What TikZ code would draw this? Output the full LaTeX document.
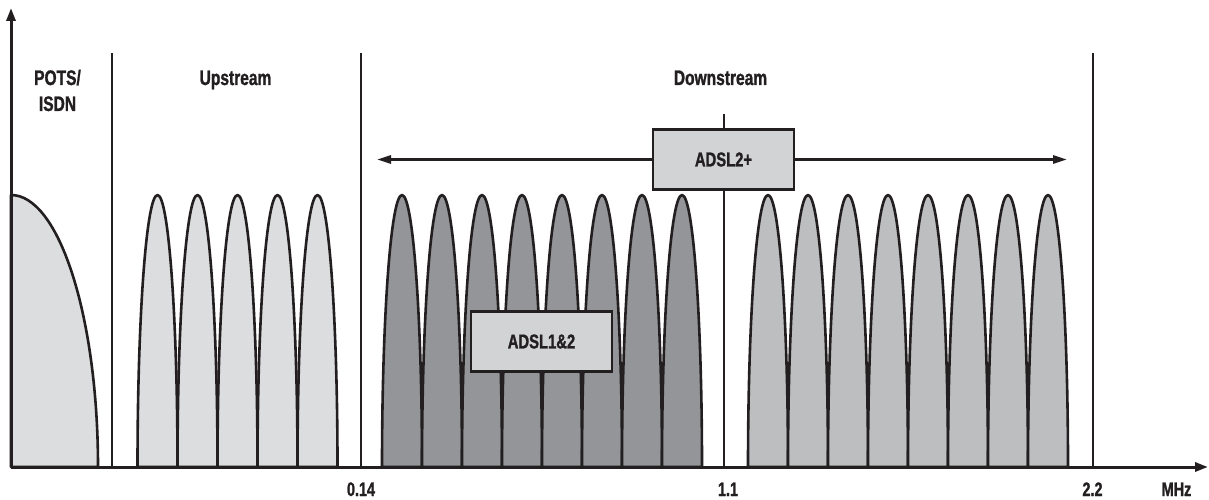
\documentclass[tikz,border=0pt]{standalone}
\usepackage{fontspec}
\setmainfont{Liberation Sans}[FakeStretch=0.74, BoldFeatures={FakeBold=1.2}]
\usepackage{xcolor}
\usepackage{tikz}
\definecolor{potsgray}{HTML}{DCDDDE}
\definecolor{downdark}{HTML}{939598}
\definecolor{downlight}{HTML}{BCBEC0}
\definecolor{boxgray}{HTML}{D1D3D4}
\definecolor{inkline}{HTML}{231F20}
\tikzset{
  band/.style={draw=inkline, line width=2.4pt},
  lobe/.style={draw=inkline, line width=2.6pt, line join=round},
  labelbox/.style={draw=inkline, line width=2.6pt, fill=boxgray,
                   minimum width=141pt, minimum height=60pt,
                   align=center, inner sep=2pt, text=inkline,
                   font=\fontsize{20}{22}\selectfont\bfseries},
  axis/.style={draw=inkline, line width=3pt, -{Triangle[length=13pt,width=9pt]}}
}
\usetikzlibrary{arrows.meta}

\begin{document}
\begin{tikzpicture}[
  x=1pt, y=1pt,
  bandlabel/.style={anchor=base, inner sep=0pt, text=inkline, font=\fontsize{21}{24}\selectfont\bfseries},
  ticklabel/.style={anchor=base, inner sep=0pt, text=inkline, font=\fontsize{19.5}{22}\selectfont\bfseries},
  flow/.style={draw=inkline, line width=2.6pt, -{Triangle[length=14pt,width=8pt]}}
]
\useasboundingbox (0,0) rectangle (1209,499);

\coordinate (origin) at (11,32);
\coordinate (ytop) at (11,491);
\coordinate (xend) at (1208,32);

\filldraw[lobe, fill=potsgray] (11,32) -- (11,304) arc[start angle=90, end angle=0, x radius=87, y radius=272] -- cycle;
\foreach \i in {0,...,4}
  \filldraw[lobe, fill=potsgray] ({137.5+40*\i},32) arc[start angle=180, end angle=0, x radius=20, y radius=272] -- cycle;
\foreach \i in {0,...,7}
  \filldraw[lobe, fill=downdark] ({382+40*\i},32) arc[start angle=180, end angle=0, x radius=20, y radius=272] -- cycle;
\foreach \i in {0,...,7}
  \filldraw[lobe, fill=downlight] ({748+40*\i},32) arc[start angle=180, end angle=0, x radius=20, y radius=272] -- cycle;

\draw[band] (112,32) -- (112,446);
\draw[band] (361,32) -- (361,446);
\draw[band] (724,32) -- (724,385);
\draw[band] (1093,32) -- (1093,446);

\draw[axis] (origin) -- (ytop);
\draw[axis] (origin) -- (xend);

\node[labelbox] (adslplus) at (723.5,339.5) {ADSL2+};
\node[labelbox] (adslone) at (541.5,157.5) {ADSL1\&2};
\coordinate (plusleft) at (377,339.5);
\coordinate (plusright) at (1067,339.5);
\draw[flow] (adslplus.west) -- (plusleft);
\draw[flow] (adslplus.east) -- (plusright);

\node[bandlabel] (pots) at (57.5,414) {POTS/};
\node[bandlabel] (isdn) at (57.5,388) {ISDN};
\node[bandlabel] (upstream) at (235.5,414) {Upstream};
\node[bandlabel] (downstream) at (720.5,414) {Downstream};

\node[ticklabel] (flowfreq) at (361,3) {0.14};
\node[ticklabel] (midfreq) at (728,3) {1.1};
\node[ticklabel] (highfreq) at (1092.5,3) {2.2};
\node[ticklabel] (unit) at (1176.5,3) {MHz};
\end{tikzpicture}
\end{document}
